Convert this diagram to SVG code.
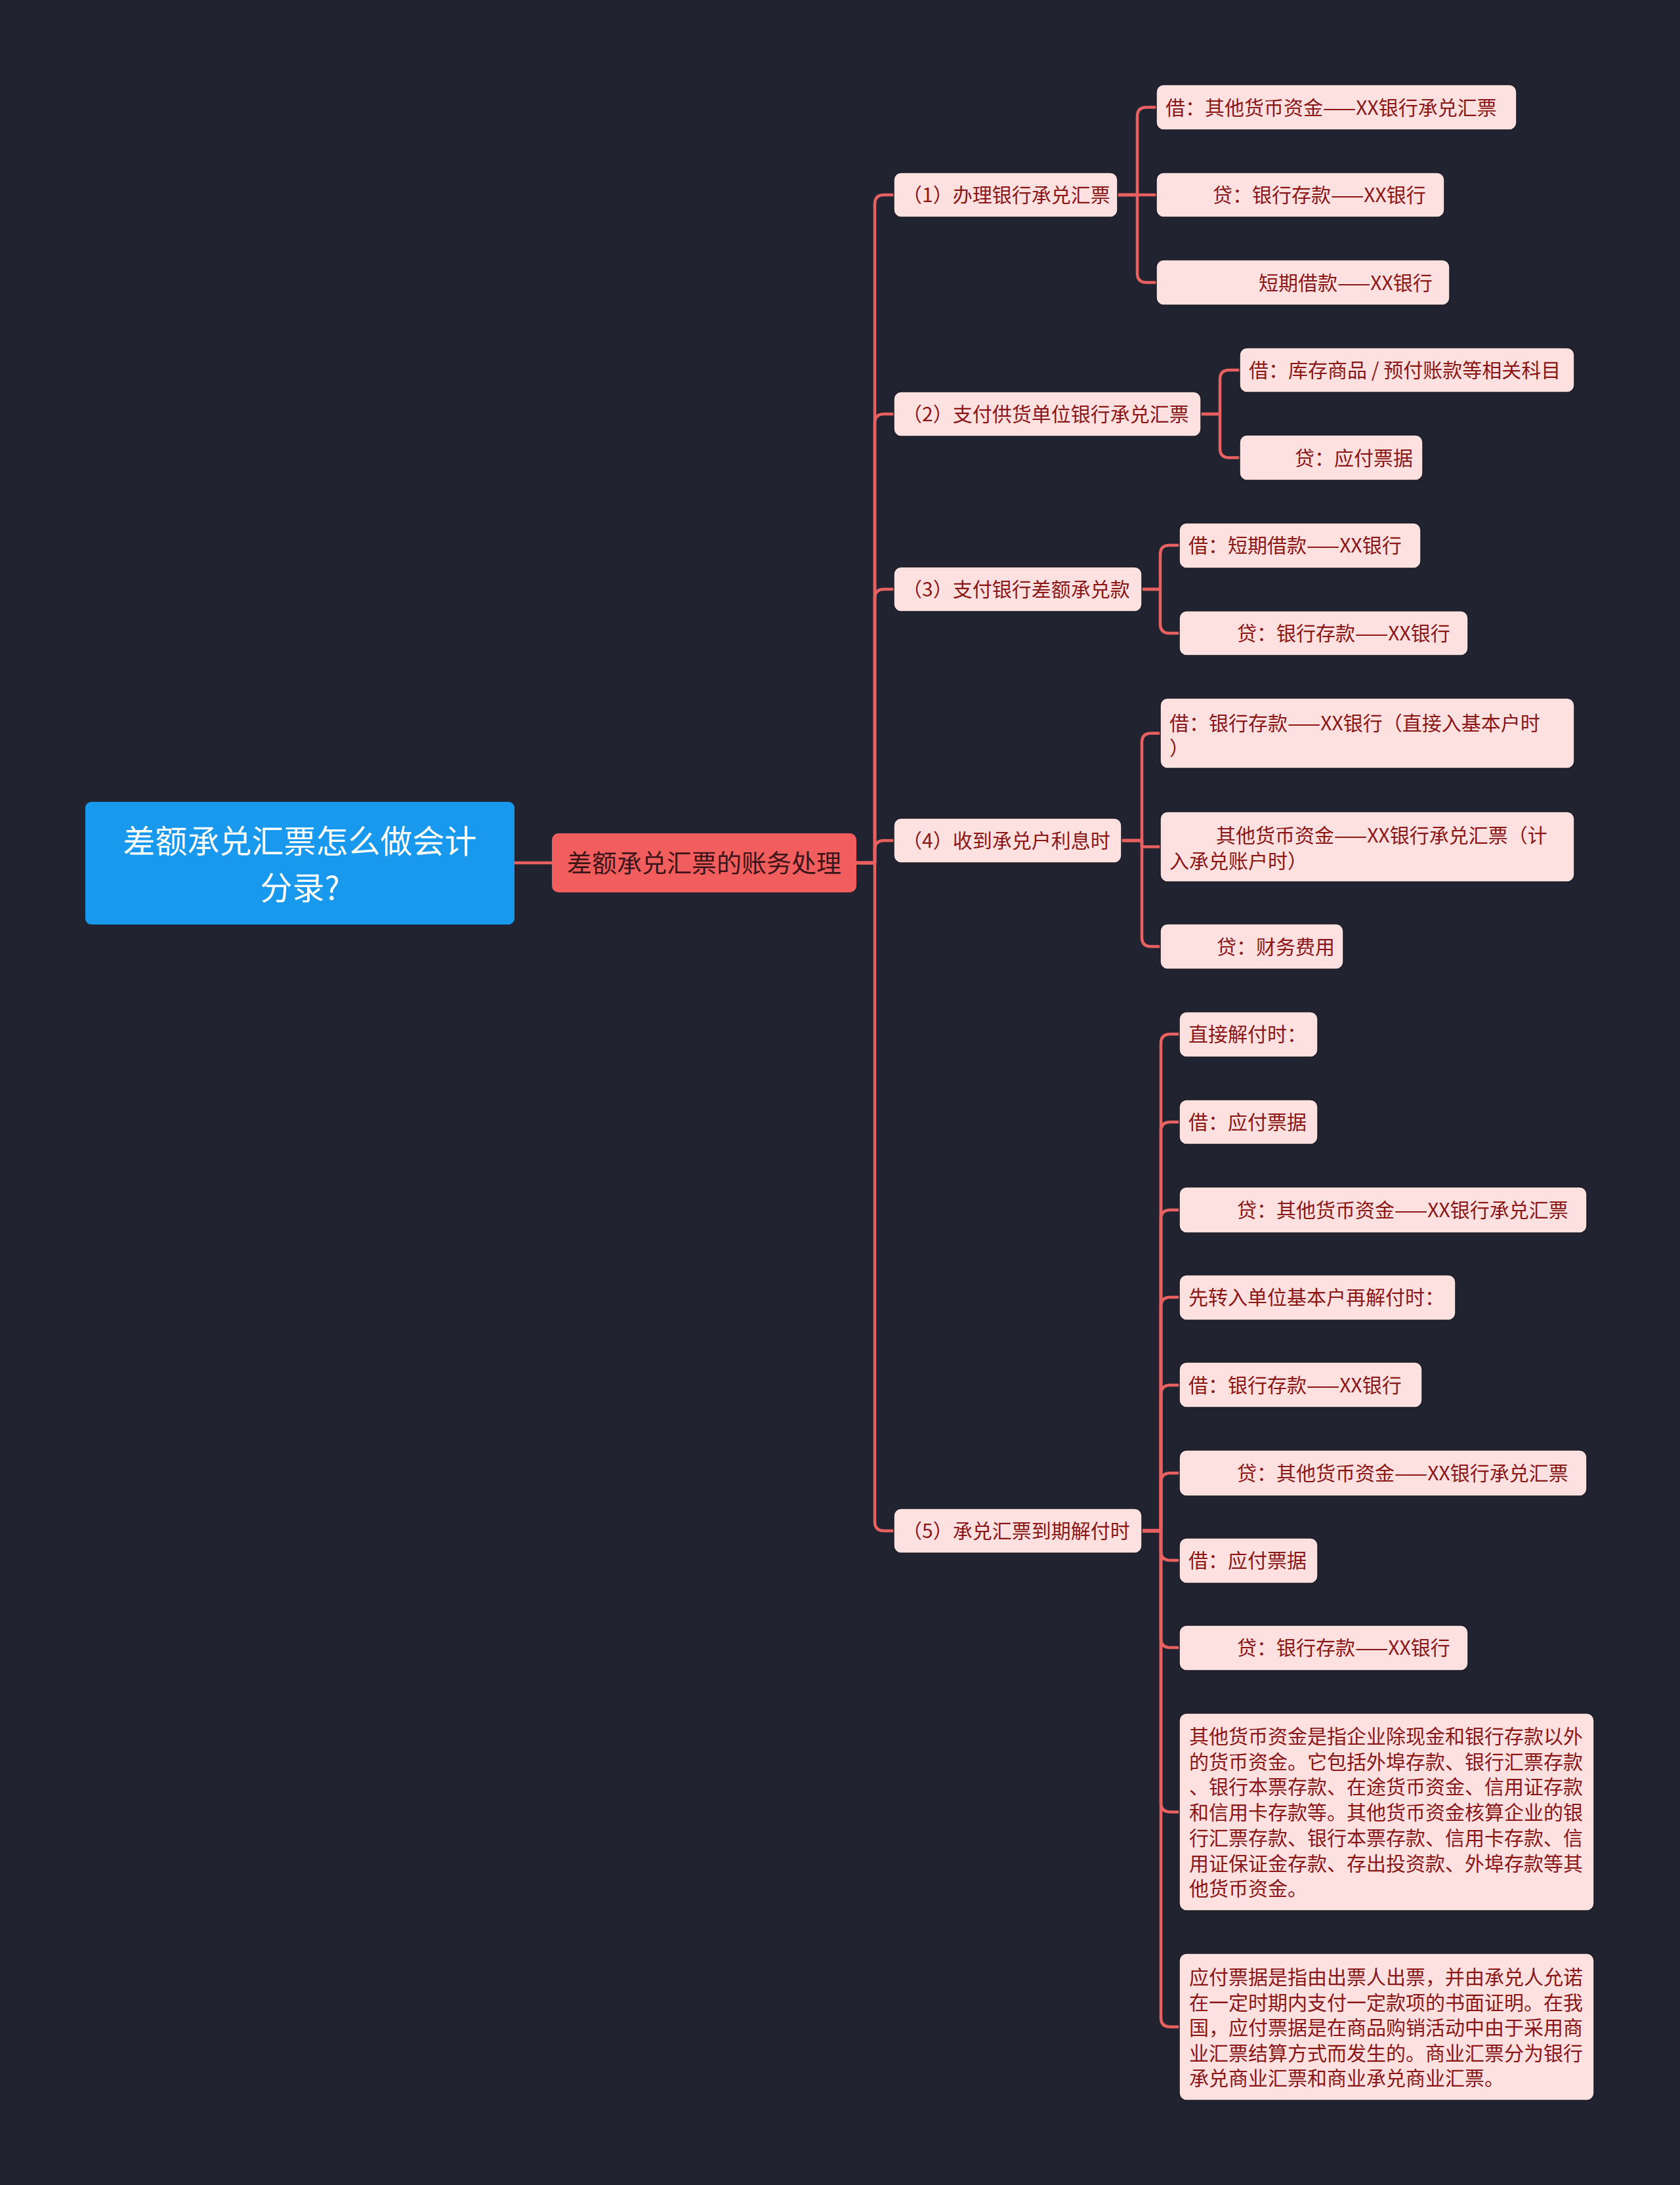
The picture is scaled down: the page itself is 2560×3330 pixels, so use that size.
<svg xmlns="http://www.w3.org/2000/svg" width="2560" height="3330" viewBox="0 0 2560 3330">
<defs>
<style>
text{font-family:"Noto Sans CJK SC","Noto Sans",sans-serif;dominant-baseline:central}
.leaf rect{fill:#fde1e1;stroke:#1a1c25;stroke-width:1.5}
.leaf text{font-size:30px;fill:#8a1616}
.l2 rect{fill:#fde1e1;stroke:#1a1c25;stroke-width:1.5}
.l2 text{font-size:30px;fill:#8a1616}
.conn path{fill:none;stroke:#e8605f;stroke-width:4.5;stroke-linejoin:round}
</style>
</defs>
<rect x="0" y="0" width="2560" height="3330" fill="#212430"/>
<g class="conn" id="connectors">
<path d="M784,1315 H841"/>
<path d="M1305,1315 H1333 V311 Q1333,297 1347,297 H1362"/>
<path d="M1305,1315 H1333 V645 Q1333,631 1347,631 H1362"/>
<path d="M1305,1315 H1333 V912 Q1333,898 1347,898 H1362"/>
<path d="M1305,1315 H1333 V1295 Q1333,1281 1347,1281 H1362"/>
<path d="M1305,1315 H1333 V2319 Q1333,2333 1347,2333 H1362"/>
<path d="M1703,297 H1733 V177.5 Q1733,163.5 1747,163.5 H1762"/>
<path d="M1703,297 H1762"/>
<path d="M1703,297 H1733 V416.5 Q1733,430.5 1747,430.5 H1762"/>
<path d="M1829.5,631 H1859 V578 Q1859,564 1873,564 H1889"/>
<path d="M1829.5,631 H1859 V683.5 Q1859,697.5 1873,697.5 H1889"/>
<path d="M1740,898 H1768 V845 Q1768,831 1782,831 H1797"/>
<path d="M1740,898 H1768 V951 Q1768,965 1782,965 H1797"/>
<path d="M1709,1281 H1740 V1131.5 Q1740,1117.5 1754,1117.5 H1768"/>
<path d="M1709,1281 H1740 V1290.5 H1768"/>
<path d="M1709,1281 H1740 V1428.5 Q1740,1442.5 1754,1442.5 H1768"/>
<path d="M1740,2333 H1769 V1590 Q1769,1576 1783,1576 H1797"/>
<path d="M1740,2333 H1769 V1724 Q1769,1710 1783,1710 H1797"/>
<path d="M1740,2333 H1769 V1858 Q1769,1844 1783,1844 H1797"/>
<path d="M1740,2333 H1769 V1991 Q1769,1977 1783,1977 H1797"/>
<path d="M1740,2333 H1769 V2125 Q1769,2111 1783,2111 H1797"/>
<path d="M1740,2333 H1769 V2259 Q1769,2245 1783,2245 H1797"/>
<path d="M1740,2333 H1769 V2364 Q1769,2378 1783,2378 H1797"/>
<path d="M1740,2333 H1769 V2497 Q1769,2511 1783,2511 H1797"/>
<path d="M1740,2333 H1769 V2747.5 Q1769,2761.5 1783,2761.5 H1797"/>
<path d="M1740,2333 H1769 V3075 Q1769,3089 1783,3089 H1797"/>
</g>
<g id="root">
<rect x="130" y="1222" width="654" height="187" rx="9" fill="#1899ee"/>
<text x="457" y="1278" font-size="49" fill="#ffffff" text-anchor="middle">差额承兑汇票怎么做会计</text>
<text x="457" y="1349" font-size="49" fill="#ffffff" text-anchor="middle">分录?</text>
</g>
<g id="l1">
<rect x="841" y="1270" width="464" height="90" rx="10" fill="#f25e5e"/>
<text x="1073" y="1312" font-size="38" fill="#3d1518" text-anchor="middle">差额承兑汇票的账务处理</text>
</g>
<g id="n1" class="l2"><rect x="1362" y="263" width="341" height="68" rx="11"/><text x="1375" y="295">（1）办理银行承兑汇票</text></g>
<g id="n2" class="l2"><rect x="1362" y="597" width="468" height="68" rx="11"/><text x="1375" y="629">（2）支付供货单位银行承兑汇票</text></g>
<g id="n3" class="l2"><rect x="1362" y="864" width="378" height="68" rx="11"/><text x="1375" y="896">（3）支付银行差额承兑款</text></g>
<g id="n4" class="l2"><rect x="1362" y="1247" width="347" height="68" rx="11"/><text x="1375" y="1279">（4）收到承兑户利息时</text></g>
<g id="n5" class="l2"><rect x="1362" y="2299" width="378" height="68" rx="11"/><text x="1375" y="2331">（5）承兑汇票到期解付时</text></g>
<g id="n1a" class="leaf"><rect x="1762" y="129" width="549" height="69" rx="11"/><text x="1776" y="161.5">借：其他货币资金——XX银行承兑汇票</text></g>
<g id="n1b" class="leaf"><rect x="1762" y="263" width="439" height="68" rx="11"/><text x="1848" y="295">贷：银行存款——XX银行</text></g>
<g id="n1c" class="leaf"><rect x="1762" y="396" width="447" height="69" rx="11"/><text x="1918" y="428.5">短期借款——XX银行</text></g>
<g id="n2a" class="leaf"><rect x="1889" y="530" width="510" height="68" rx="11"/><text x="1903" y="562">借：库存商品 / 预付账款等相关科目</text></g>
<g id="n2b" class="leaf"><rect x="1889" y="663" width="279" height="69" rx="11"/><text x="1973" y="695.5">贷：应付票据</text></g>
<g id="n3a" class="leaf"><rect x="1797" y="797" width="368" height="69" rx="11"/><text x="1811" y="829">借：短期借款——XX银行</text></g>
<g id="n3b" class="leaf"><rect x="1797" y="931" width="440" height="68" rx="11"/><text x="1885" y="963">贷：银行存款——XX银行</text></g>
<g id="n4a" class="leaf"><rect x="1768" y="1064" width="631" height="107" rx="11"/><text x="1782" y="1100">借：银行存款——XX银行（直接入基本户时</text><text x="1782" y="1138">）</text></g>
<g id="n4b" class="leaf"><rect x="1768" y="1237" width="631" height="107" rx="11"/><text x="1853" y="1271">其他货币资金——XX银行承兑汇票（计</text><text x="1782" y="1310">入承兑账户时）</text></g>
<g id="n4c" class="leaf"><rect x="1768" y="1408" width="279" height="69" rx="11"/><text x="1854" y="1440.5">贷：财务费用</text></g>
<g id="n5a" class="leaf"><rect x="1797" y="1542" width="211" height="69" rx="11"/><text x="1811" y="1574">直接解付时：</text></g>
<g id="n5b" class="leaf"><rect x="1797" y="1676" width="211" height="68" rx="11"/><text x="1811" y="1708">借：应付票据</text></g>
<g id="n5c" class="leaf"><rect x="1797" y="1809" width="621" height="70" rx="11"/><text x="1885" y="1842">贷：其他货币资金——XX银行承兑汇票</text></g>
<g id="n5d" class="leaf"><rect x="1797" y="1943" width="421" height="69" rx="11"/><text x="1811" y="1975">先转入单位基本户再解付时：</text></g>
<g id="n5e" class="leaf"><rect x="1797" y="2076" width="370" height="69" rx="11"/><text x="1811" y="2109">借：银行存款——XX银行</text></g>
<g id="n5f" class="leaf"><rect x="1797" y="2210" width="621" height="70" rx="11"/><text x="1885" y="2243">贷：其他货币资金——XX银行承兑汇票</text></g>
<g id="n5g" class="leaf"><rect x="1797" y="2344" width="211" height="69" rx="11"/><text x="1811" y="2376">借：应付票据</text></g>
<g id="n5h" class="leaf"><rect x="1797" y="2477" width="440" height="69" rx="11"/><text x="1885" y="2509">贷：银行存款——XX银行</text></g>
<g id="n5i" class="leaf"><rect x="1797" y="2611" width="632" height="301" rx="11"/>
<text x="1812" y="2644">其他货币资金是指企业除现金和银行存款以外</text>
<text x="1812" y="2682.7">的货币资金。它包括外埠存款、银行汇票存款</text>
<text x="1812" y="2721.4">、银行本票存款、在途货币资金、信用证存款</text>
<text x="1812" y="2760.1">和信用卡存款等。其他货币资金核算企业的银</text>
<text x="1812" y="2798.8">行汇票存款、银行本票存款、信用卡存款、信</text>
<text x="1812" y="2837.5">用证保证金存款、存出投资款、外埠存款等其</text>
<text x="1812" y="2876.2">他货币资金。</text>
</g>
<g id="n5j" class="leaf"><rect x="1797" y="2977" width="632" height="224" rx="11"/>
<text x="1812" y="3011">应付票据是指由出票人出票，并由承兑人允诺</text>
<text x="1812" y="3049.5">在一定时期内支付一定款项的书面证明。在我</text>
<text x="1812" y="3088">国，应付票据是在商品购销活动中由于采用商</text>
<text x="1812" y="3126.5">业汇票结算方式而发生的。商业汇票分为银行</text>
<text x="1812" y="3165">承兑商业汇票和商业承兑商业汇票。</text>
</g>
</svg>
